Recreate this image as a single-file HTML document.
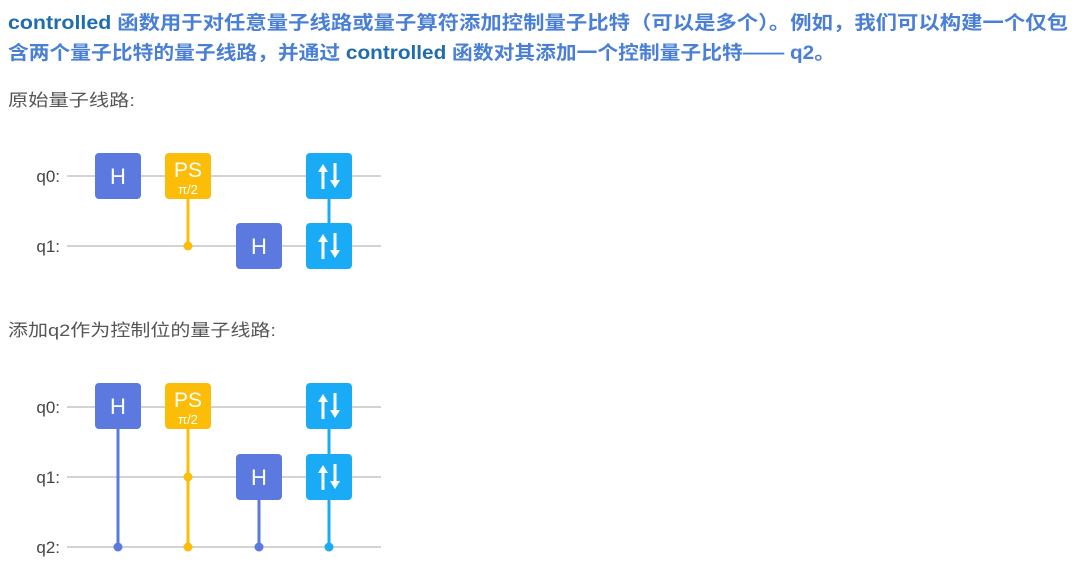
<!DOCTYPE html>
<html><head><meta charset="utf-8"><style>
html,body{margin:0;padding:0;background:#fff;}
svg{display:block}
</style></head><body>
<svg width="1080" height="568" viewBox="0 0 1080 568" xmlns="http://www.w3.org/2000/svg">
<defs>
<g id="swap">
<rect x="0" y="0" width="46" height="46" rx="4" fill="#1aabf7"/>
<path d="M17 11 L12 19 L15.5 19 L15.5 36 L18.5 36 L18.5 19 L22 19 Z" fill="#fff"/>
<path d="M29 35 L24 27 L27.5 27 L27.5 10 L30.5 10 L30.5 27 L34 27 Z" fill="#fff"/>
</g>
</defs>
<g font-family="Liberation Sans, Noto Sans CJK SC, sans-serif" font-weight="bold" font-size="19">
<text x="8" y="29" textLength="1060" lengthAdjust="spacingAndGlyphs"><tspan fill="#1f6cae">controlled </tspan><tspan fill="#4a7fd6">函数用于对任意量子线路或量子算符添加控制量子比特（可以是多个）。例如，我们可以构建一个仅包</tspan></text>
<text x="8" y="59" textLength="827" lengthAdjust="spacingAndGlyphs"><tspan fill="#4a7fd6">含两个量子比特的量子线路，并通过 </tspan><tspan fill="#1f6cae">controlled </tspan><tspan fill="#4a7fd6">函数对其添加一个控制量子比特—— q2。</tspan></text>
</g>
<g font-family="Liberation Sans, Noto Sans CJK SC, sans-serif" font-size="17" fill="#555">
<text x="8" y="106" textLength="127" lengthAdjust="spacingAndGlyphs">原始量子线路:</text>
<text x="8" y="336" textLength="268" lengthAdjust="spacingAndGlyphs">添加q2作为控制位的量子线路:</text>
</g>
<g font-family="Liberation Sans, sans-serif" font-size="17" fill="#444" text-anchor="end">
<text x="60" y="182">q0:</text>
<text x="60" y="252">q1:</text>
<text x="60" y="413">q0:</text>
<text x="60" y="483">q1:</text>
<text x="60" y="553">q2:</text>
</g>
<g stroke="#d3d3d3" stroke-width="2">
<line x1="67" y1="176" x2="381" y2="176"/>
<line x1="67" y1="246" x2="381" y2="246"/>
<line x1="67" y1="407" x2="381" y2="407"/>
<line x1="67" y1="477" x2="381" y2="477"/>
<line x1="67" y1="547" x2="381" y2="547"/>
</g>
<line x1="188" y1="190" x2="188" y2="246" stroke="#fbbd08" stroke-width="3"/>
<circle cx="188" cy="246" r="4.5" fill="#fbbd08"/>
<line x1="329" y1="190" x2="329" y2="230" stroke="#1aabf7" stroke-width="3"/>
<rect x="95" y="153" width="46" height="46" rx="4" fill="#5b79de"/>
<text x="118" y="184" font-family="Liberation Sans, sans-serif" font-size="22" fill="#fff" text-anchor="middle">H</text>
<rect x="165" y="153" width="46" height="46" rx="4" fill="#fbbd08"/>
<text x="188" y="177" font-family="Liberation Sans, sans-serif" font-size="21" fill="#fff" text-anchor="middle">PS</text>
<text x="188" y="194" font-family="Liberation Sans, sans-serif" font-size="13" fill="#fff" text-anchor="middle">π/2</text>
<rect x="236" y="223" width="46" height="46" rx="4" fill="#5b79de"/>
<text x="259" y="254" font-family="Liberation Sans, sans-serif" font-size="22" fill="#fff" text-anchor="middle">H</text>
<use href="#swap" x="306" y="153"/>
<use href="#swap" x="306" y="223"/>
<line x1="118" y1="420" x2="118" y2="547" stroke="#5b79de" stroke-width="3"/>
<circle cx="118" cy="547" r="4.5" fill="#5b79de"/>
<line x1="188" y1="420" x2="188" y2="547" stroke="#fbbd08" stroke-width="3"/>
<circle cx="188" cy="477" r="4.5" fill="#fbbd08"/>
<circle cx="188" cy="547" r="4.5" fill="#fbbd08"/>
<line x1="259" y1="490" x2="259" y2="547" stroke="#5b79de" stroke-width="3"/>
<circle cx="259" cy="547" r="4.5" fill="#5b79de"/>
<line x1="329" y1="420" x2="329" y2="547" stroke="#1aabf7" stroke-width="3"/>
<circle cx="329" cy="547" r="4.5" fill="#1aabf7"/>
<rect x="95" y="383" width="46" height="46" rx="4" fill="#5b79de"/>
<text x="118" y="414" font-family="Liberation Sans, sans-serif" font-size="22" fill="#fff" text-anchor="middle">H</text>
<rect x="165" y="383" width="46" height="46" rx="4" fill="#fbbd08"/>
<text x="188" y="407" font-family="Liberation Sans, sans-serif" font-size="21" fill="#fff" text-anchor="middle">PS</text>
<text x="188" y="424" font-family="Liberation Sans, sans-serif" font-size="13" fill="#fff" text-anchor="middle">π/2</text>
<rect x="236" y="454" width="46" height="46" rx="4" fill="#5b79de"/>
<text x="259" y="485" font-family="Liberation Sans, sans-serif" font-size="22" fill="#fff" text-anchor="middle">H</text>
<use href="#swap" x="306" y="383"/>
<use href="#swap" x="306" y="454"/>
</svg>
</body></html>
